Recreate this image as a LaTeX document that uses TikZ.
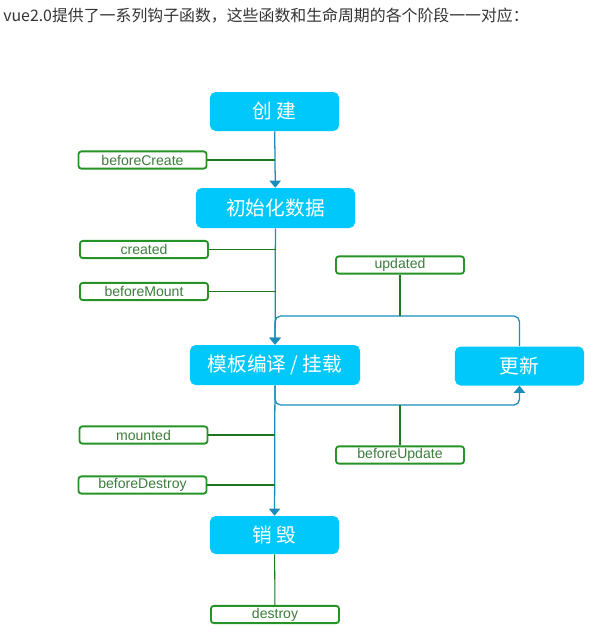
\documentclass[tikz,border=0pt]{standalone}
\usepackage{fontspec}
\setmainfont{Liberation Sans}
\newfontfamily\cjk{Noto Sans CJK SC}
\usetikzlibrary{arrows.meta,positioning}

\definecolor{stagefill}{HTML}{00C8FA}
\definecolor{flowblue}{HTML}{1A8DB8}
\definecolor{hookgreen}{HTML}{259325}
\definecolor{hooktext}{HTML}{3D7D3D}
\definecolor{titlegray}{HTML}{333333}

\begin{document}
\begin{tikzpicture}[x=0.025cm, y=-0.025cm,
    stage/.style={fill=stagefill, rounded corners=4pt, text=white, inner sep=0pt, font=\cjk\fontsize{14}{16}\selectfont},
    hook/.style={draw=hookgreen, line width=1.3pt, rounded corners=2pt, fill=white, minimum width=3.2cm, minimum height=0.43cm, inner sep=0pt, text=hooktext, font=\fontsize{10}{11}\selectfont},
    flow/.style={flowblue, line width=0.9pt, -{Triangle[width=8pt, length=5pt]}},
    loopline/.style={flowblue, line width=0.9pt, rounded corners=4pt},
    hookline/.style={hookgreen!80!black, line width=0.75pt}
]
\useasboundingbox (0,0) rectangle (598,641);

% title
\node[anchor=west, inner sep=0pt, text=titlegray, font=\cjk\fontsize{11.3}{13}\selectfont] (title) at (3,16) {vue2.0提供了一系列钩子函数，这些函数和生命周期的各个阶段一一对应：};

% stages
\node[stage, minimum width=3.225cm, minimum height=0.975cm] (create) at (274.5,111.5) {创 建};
\node[stage, minimum width=3.975cm, minimum height=1cm] (init) at (275.5,208) {初始化数据};
\node[stage, minimum width=4.25cm, minimum height=1cm] (mount) at (275,365) {模板编译 / 挂载};
\node[stage, minimum width=3.225cm, minimum height=0.975cm] (update) at (519.5,366) {更新};
\node[stage, minimum width=3.225cm, minimum height=0.95cm] (teardown) at (274.5,535) {销 毁};

% hooks
\node[hook] (bcreate) at (142.5,160) {beforeCreate};
\node[hook] (created) at (144,249.5) {created};
\node[hook] (bmount) at (144,291.5) {beforeMount};
\node[hook] (updated) at (400,265) {updated};
\node[hook] (mounted) at (143.5,435) {mounted};
\node[hook] (bupdate) at (400,455) {beforeUpdate};
\node[hook] (bdestroy) at (142.5,485) {beforeDestroy};
\node[hook] (destroyhook) at (275,614.5) {destroy};

\coordinate (looptop) at (400,316);
\coordinate (loopbot) at (400,405);

% main flow
\draw[flow] (create) -- (init);
\draw[flow] (init) -- (mount);
\draw[flow] (mount) -- (teardown);
\draw[hookline] (teardown) -- (destroyhook);

% update loop
\draw[loopline, -{Triangle[width=8pt, length=5pt]}] (update.north) |- (looptop) -| (mount.north);
\draw[loopline, -{Triangle[width=8pt, length=5pt]}] (mount.south) |- (loopbot) -| (update.south);

% hook connectors
\draw[hookline] (bcreate.east) -- (bcreate.east -| create.south);
\draw[hookline] (created.east) -- (created.east -| init.south);
\draw[hookline] (bmount.east) -- (bmount.east -| init.south);
\draw[hookline] (mounted.east) -- (mounted.east -| mount.south);
\draw[hookline] (bdestroy.east) -- (bdestroy.east -| mount.south);
\draw[hookline] (updated.south) -- (looptop);
\draw[hookline] (bupdate.north) -- (loopbot);

\end{tikzpicture}
\end{document}
